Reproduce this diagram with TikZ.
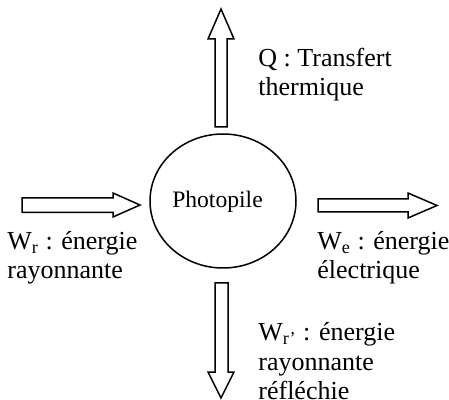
\documentclass[tikz,border=0pt]{standalone}
\usepackage{fontspec}
\setmainfont{Liberation Serif}
\usetikzlibrary{shapes.geometric}

\begin{document}
\begin{tikzpicture}[x=0.5pt,y=-0.5pt,
  flowarrow/.style={draw,line width=0.75pt,line join=miter},
  cellshape/.style={draw,ellipse,line width=0.75pt,minimum width=73pt,minimum height=67pt,inner sep=0pt},
  energytext/.style={anchor=base west,align=left,inner sep=0pt,
    font=\fontsize{13}{14.5}\selectfont}]
  \useasboundingbox (0,0) rectangle (449,400);
  % the cell
  \node[cellshape] (cell) at (223,201) {};
  \node[font=\fontsize{11.8}{13}\selectfont,anchor=base,inner sep=0pt] (celltext) at (217.5,208) {Photopile};
  % incoming radiation
  \draw[flowarrow] (22,198) -- (113,198) -- (113,193) -- (140,205) -- (113,217)
    -- (113,212.5) -- (22,212.5) -- cycle;
  % electrical output
  \draw[flowarrow] (318,199) -- (408,199) -- (408,193) -- (437,205.5) -- (408,218)
    -- (408,212) -- (318,212) -- cycle;
  % heat
  \draw[flowarrow] (215,127) -- (215,39) -- (208,39) -- (221,9) -- (234,39)
    -- (227,39) -- (227,127) -- cycle;
  % reflected radiation
  \draw[flowarrow] (215,283) -- (215,372) -- (208,372) -- (221,398) -- (234,372)
    -- (228,372) -- (228,283) -- cycle;
  % base west sits on the last line
  \node[energytext] (heat) at (258,96) {Q : Transfert\\thermique};
  \node[energytext] (win) at (7,279) {W\textsubscript{r} : énergie\\rayonnante};
  \node[energytext] (wout) at (317,279) {W\textsubscript{e} : énergie\\électrique};
  \node[energytext] (wref) at (258,399) {W\textsubscript{r’} : énergie\\rayonnante\\réfléchie};
\end{tikzpicture}
\end{document}
